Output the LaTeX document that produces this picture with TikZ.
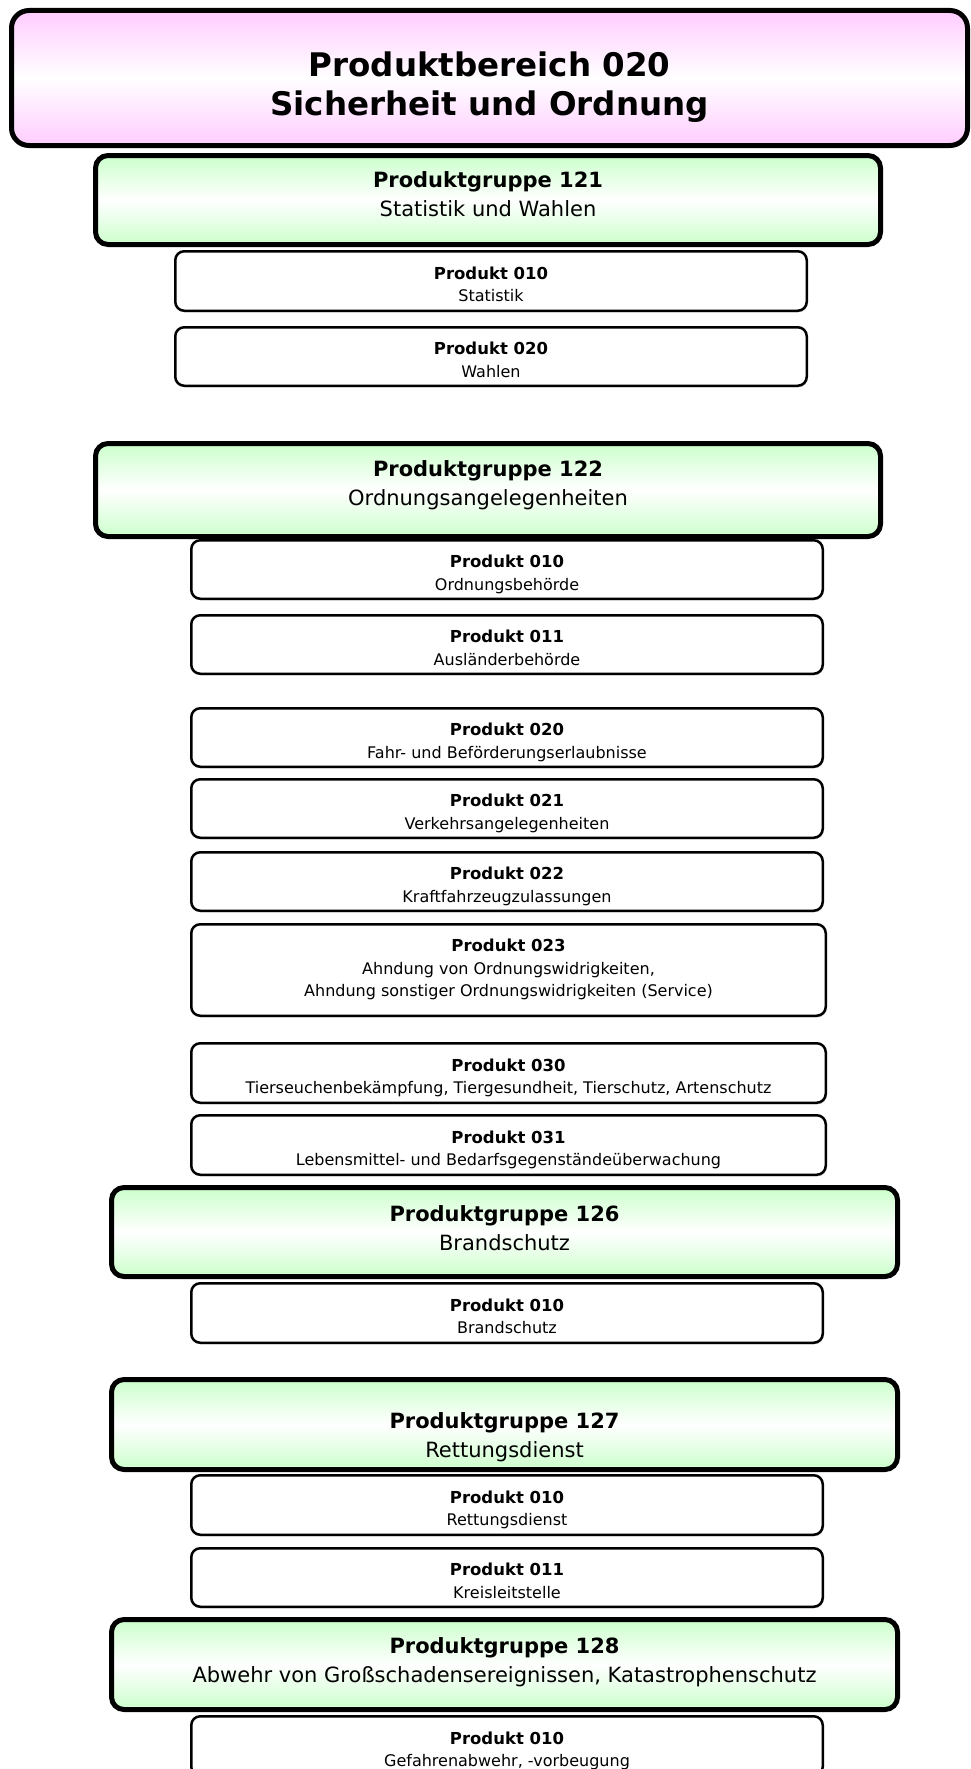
\documentclass[tikz,border=0pt]{standalone}
\usepackage{fontspec}
\setmainfont{DejaVu Sans}
\usetikzlibrary{shadows}
\definecolor{pinkfill}{HTML}{FFCCFF}
\definecolor{greenfill}{HTML}{CCFFCC}
% two lines with fixed top height / bottom depth (in pt)
\newcommand\tl[4]{\rule{0pt}{#1pt}#3\\#4\rule[-#2pt]{0pt}{#2pt}}
\newcommand\pb[1]{{\fontsize{16.5}{22.5}\selectfont\bfseries #1}}
\newcommand\gbold[1]{{\bfseries #1}}
\tikzset{
  shadowed/.style={drop shadow={shadow xshift=1pt,shadow yshift=-1.5pt,fill=gray,opacity=0.35}},
  bereich/.style={shadowed, draw=black, line width=5pt, rounded corners=17.5pt,
    top color=pinkfill, bottom color=pinkfill, middle color=white,
    inner sep=0pt, align=center, font=\fontsize{32.5}{39.5}\selectfont\bfseries},
  gruppe/.style={shadowed, draw=black, line width=5pt, rounded corners=12.5pt,
    top color=greenfill, bottom color=greenfill, middle color=white,
    inner sep=0pt, align=center, font=\fontsize{21}{29}\selectfont},
  gruppeA/.style={gruppe, minimum width=785pt},
  gruppeB/.style={gruppe, minimum width=786pt},
  produkt/.style={shadowed, draw=black, line width=2.5pt, rounded corners=9pt, fill=white,
    inner sep=0pt, align=center, font=\fontsize{16}{22.5}\selectfont},
  produktA/.style={produkt, minimum width=631.5pt},
  produktB/.style={produkt, minimum width=634.5pt},
}
\begin{document}
\begin{tikzpicture}[x=1pt,y=-1pt]
\useasboundingbox (0,0) rectangle (971,1769);

\node[bereich, minimum width=956pt, minimum height=135pt] (pb020) at (489.5,78)
  {\tl{44.5}{9}{Produktbereich 020}{Sicherheit und Ordnung}};

% Produktgruppe 121
\node[gruppeA, minimum height=89pt] (g121) at (488,200)
  {\tl{20}{17}{\gbold{Produktgruppe 121}}{Statistik und Wahlen}};
\node[produktA, minimum height=59.5pt] (g121p010) at (491,281)
  {\tl{24.5}{6}{\pb{Produkt 010}}{Statistik}};
\node[produktA, minimum height=58.5pt] (g121p020) at (491,356.5)
  {\tl{24.5}{6}{\pb{Produkt 020}}{Wahlen}};

% Produktgruppe 122
\node[gruppeA, minimum height=93pt] (g122) at (488,490)
  {\tl{20}{19}{\gbold{Produktgruppe 122}}{Ordnungsangelegenheiten}};
\node[produktA, minimum height=58.5pt] (g122p010) at (507,569.5)
  {\tl{24.5}{6}{\pb{Produkt 010}}{Ordnungsbehörde}};
\node[produktA, minimum height=58.5pt] (g122p011) at (507,644.5)
  {\tl{24.5}{6}{\pb{Produkt 011}}{Ausländerbehörde}};
\node[produktA, minimum height=58.5pt] (g122p020) at (507,737.5)
  {\tl{24.5}{6}{\pb{Produkt 020}}{Fahr- und Beförderungserlaubnisse}};
\node[produktA, minimum height=58.5pt] (g122p021) at (507,808.5)
  {\tl{24.5}{6}{\pb{Produkt 021}}{Verkehrsangelegenheiten}};
\node[produktA, minimum height=58.5pt] (g122p022) at (507,881.5)
  {\tl{24.5}{6}{\pb{Produkt 022}}{Kraftfahrzeugzulassungen}};
\node[produktB, minimum height=91.5pt] (g122p023) at (508.5,970)
  {\tl{25}{16.6}{\pb{Produkt 023}}{Ahndung von Ordnungswidrigkeiten,\\Ahndung sonstiger Ordnungswidrigkeiten (Service)}};
\node[produktB, minimum height=59.5pt] (g122p030) at (508.5,1073)
  {\tl{24.5}{6}{\pb{Produkt 030}}{Tierseuchenbekämpfung, Tiergesundheit, Tierschutz, Artenschutz}};
\node[produktB, minimum height=59.5pt] (g122p031) at (508.5,1145)
  {\tl{24.5}{6}{\pb{Produkt 031}}{Lebensmittel- und Bedarfsgegenständeüberwachung}};

% Produktgruppe 126
\node[gruppeB, minimum height=89pt] (g126) at (504.5,1232)
  {\tl{20}{13}{\gbold{Produktgruppe 126}}{Brandschutz}};
\node[produktA, minimum height=59.5pt] (g126p010) at (507,1313)
  {\tl{24.5}{6}{\pb{Produkt 010}}{Brandschutz}};

% Produktgruppe 127
\node[gruppeB, minimum height=90pt] (g127) at (504.5,1424.5)
  {\tl{41.5}{5.5}{\gbold{Produktgruppe 127}}{Rettungsdienst}};
\node[produktA, minimum height=59.5pt] (g127p010) at (507,1505)
  {\tl{24.5}{6}{\pb{Produkt 010}}{Rettungsdienst}};
\node[produktA, minimum height=58.5pt] (g127p011) at (507,1577.5)
  {\tl{24.5}{6}{\pb{Produkt 011}}{Kreisleitstelle}};

% Produktgruppe 128
\node[gruppeB, minimum height=90pt] (g128) at (504.5,1664.5)
  {\tl{20}{14}{\gbold{Produktgruppe 128}}{Abwehr von Großschadensereignissen, Katastrophenschutz}};
\node[produktA, minimum height=59.5pt] (g128p010) at (507,1746)
  {\tl{24.5}{6}{\pb{Produkt 010}}{Gefahrenabwehr, -vorbeugung}};
\end{tikzpicture}
\end{document}
